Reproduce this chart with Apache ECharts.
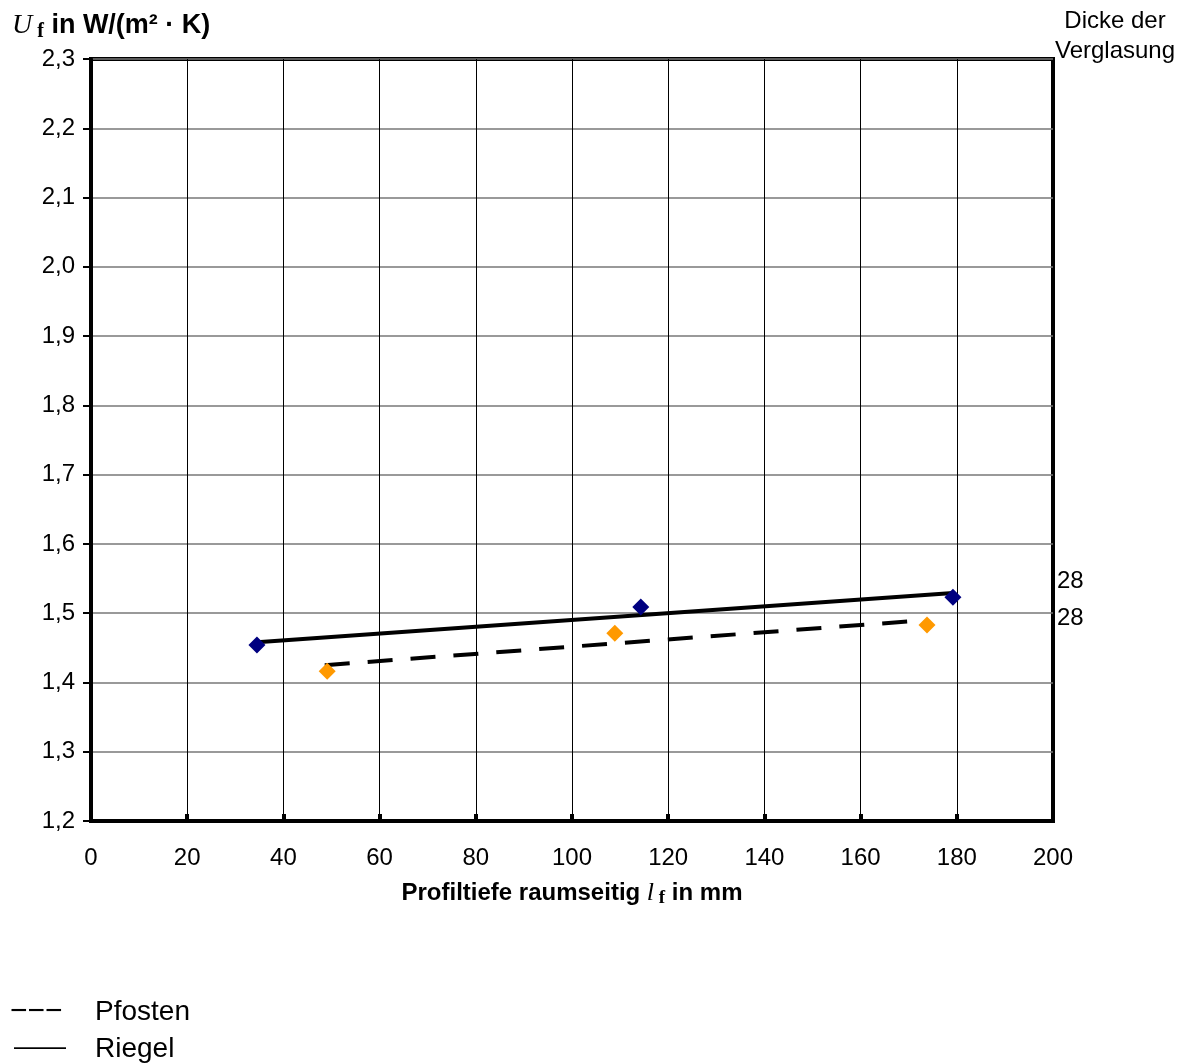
<!DOCTYPE html>
<html><head><meta charset="utf-8">
<script src="https://cdn.jsdelivr.net/npm/echarts@6/dist/echarts.min.js"></script>
<style>html,body{margin:0;padding:0;background:#fff}#c{width:1187px;height:1064px}</style>
</head><body><div id="c"></div>
<script>
const riegelX = [34.5, 114.3, 179.2];
const riegelY = [1.454, 1.509, 1.523];
const pfostenX = [49.1, 108.9, 173.8];
const pfostenY = [1.416, 1.471, 1.483];
const riegelTrend = [[34.5, 1.458], [179.2, 1.529]];
const pfostenTrend = [[48.6, 1.425], [171.7, 1.489]];
const endLabels = [[200, 1.5465, '28'], [200, 1.493, '28']];
const xTicks = [0,20,40,60,80,100,120,140,160,180,200];
const yTicks = ['1,2','1,3','1,4','1,5','1,6','1,7','1,8','1,9','2,0','2,1','2,2','2,3'];

const F = 'Liberation Sans, Arial, sans-serif';
const S = 'Liberation Serif, Times New Roman, serif';
const chart = echarts.init(document.getElementById('c'));
chart.setOption({
  animation: false,
  backgroundColor: '#fff',
  grid: {left: 91, right: 134, top: 59, bottom: 243, show: true, borderColor: '#000', borderWidth: 4},
  xAxis: {
    type: 'value', min: 0, max: 200, interval: 20,
    axisLine: {lineStyle: {color: '#000', width: 4}},
    axisTick: {inside: true, length: 7, lineStyle: {color: '#000', width: 4}},
    splitLine: {lineStyle: {color: '#000', width: 1}},
    axisLabel: {color: '#000', fontSize: 24, fontFamily: F, margin: 25}
  },
  yAxis: {
    type: 'value', min: 1.2, max: 2.3, interval: 0.1,
    axisLine: {lineStyle: {color: '#000', width: 4}},
    axisTick: {length: 8, lineStyle: {color: '#000', width: 2}},
    splitLine: {lineStyle: {color: '#777', width: 1.5}},
    axisLabel: {color: '#000', fontSize: 24, fontFamily: F, margin: 16,
      formatter: v => yTicks[Math.round((v - 1.2) * 10)]}
  },
  series: [
    {type: 'line', data: pfostenTrend, symbol: 'none', lineStyle: {color: '#000', width: 4, type: [25, 18]}, z: 3},
    {type: 'line', data: riegelTrend, symbol: 'none', lineStyle: {color: '#000', width: 4}, z: 3},
    {type: 'scatter', data: riegelX.map((x, i) => [x, riegelY[i]]), symbol: 'diamond', symbolSize: 17, itemStyle: {color: '#000080', opacity: 1}, z: 4},
    {type: 'scatter', data: pfostenX.map((x, i) => [x, pfostenY[i]]), symbol: 'diamond', symbolSize: 17, itemStyle: {color: '#FF9900', opacity: 1}, z: 4},
    {type: 'scatter', data: endLabels, symbolSize: 0, silent: true, itemStyle: {opacity: 1},
      label: {show: true, position: 'right', distance: 4, formatter: p => p.data[2], color: '#000', fontSize: 24, fontFamily: F}}
  ],
  graphic: [
    {type: 'text', left: 12, top: 12, style: {
      text: '{u|U}{f| f}{t| in W/(m² · K)}',
      rich: {
        u: {fontFamily: S, fontStyle: 'italic', fontSize: 28, fill: '#000'},
        f: {fontFamily: S, fontWeight: 'bold', fontSize: 20, fill: '#000', padding: [12, 0, 0, 0]},
        t: {fontFamily: F, fontWeight: 'bold', fontSize: 27, fill: '#000'}
      }}},
    {type: 'text', x: 1115, y: 6, style: {text: 'Dicke der\nVerglasung', align: 'center', fontFamily: F, fontSize: 24, lineHeight: 30, fill: '#000'}},
    {type: 'text', x: 572, y: 879, style: {
      text: '{t|Profiltiefe raumseitig }{l|l}{f| f}{t| in mm}', align: 'center',
      rich: {
        t: {fontFamily: F, fontWeight: 'bold', fontSize: 24, fill: '#000'},
        l: {fontFamily: S, fontStyle: 'italic', fontSize: 26, fill: '#000'},
        f: {fontFamily: S, fontWeight: 'bold', fontSize: 19, fill: '#000', padding: [10, 0, 0, 0]}
      }}},
    {type: 'text', x: 10, y: 1012, style: {text: '−−−', fontFamily: F, fontSize: 30, fill: '#000', verticalAlign: 'middle'}},
    {type: 'text', x: 95, y: 1012, style: {text: 'Pfosten', fontFamily: F, fontSize: 28, fill: '#000', verticalAlign: 'middle'}},
    {type: 'text', x: 14, y: 1048, style: {text: '——', fontFamily: F, fontSize: 26, fill: '#000', verticalAlign: 'middle'}},
    {type: 'text', x: 95, y: 1049, style: {text: 'Riegel', fontFamily: F, fontSize: 28, fill: '#000', verticalAlign: 'middle'}}
  ]
});
</script></body></html>
